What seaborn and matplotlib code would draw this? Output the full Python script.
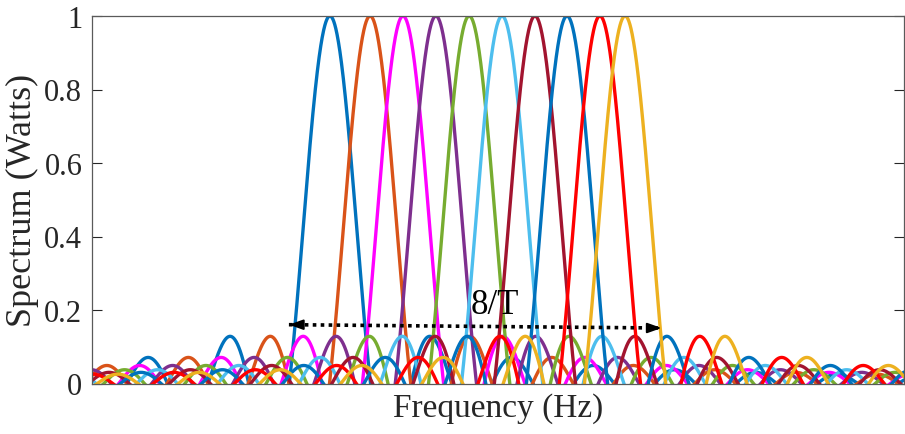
import numpy as np
import pandas as pd
import matplotlib
matplotlib.use("Agg")
import matplotlib.pyplot as plt
import seaborn as sns

# Subcarrier centre frequencies (in units of 1/T)
centers = [-4.14, -3.15, -2.34, -1.53, -0.71, 0.10, 0.91, 1.70, 2.51, 3.13]
colors = ["#0072BD", "#D95319", "#FF00FF", "#7E2F8E", "#77AC30",
          "#4DBEEE", "#A2142F", "#0072BD", "#FF0000", "#EDB120"]
yticks = [0, 0.2, 0.4, 0.6, 0.8, 1]
ytick_labels = ["0", "0.2", "0.4", "0.6", "0.8", "1"]
x_range = [-10, 10]
arrow_x = [-5.15, 4.03]
arrow_y = [0.160, 0.151]
span_label = "8/T"

sns.set_theme(style="white")
plt.rcParams["font.family"] = ["Liberation Serif", "DejaVu Serif"]

f = np.linspace(x_range[0], x_range[1], 4001)
frames = []
for i, c in enumerate(centers):
    frames.append(pd.DataFrame({"f": f, "S": np.sinc(f - c), "k": i}))
df = pd.concat(frames, ignore_index=True)

fig = plt.figure(figsize=(9.05, 4.35), dpi=100)
ax = fig.add_axes([92 / 905, (435 - 384.5) / 435, (904 - 92) / 905, (384.5 - 17) / 435])

sns.lineplot(data=df, x="f", y="S", hue="k", palette=colors, estimator=None,
             sort=False, linewidth=2.4, legend=False, ax=ax)

ax.set_xlim(*x_range)
ax.set_ylim(0, 1)
ax.set_yticks(yticks)
ax.set_yticklabels(ytick_labels)
ax.set_xticks([])
ax.tick_params(axis="y", direction="in", length=7, width=0.8, colors="#262626",
               labelsize=22, right=True, left=True, pad=7)
for s in ax.spines.values():
    s.set_visible(True)
    s.set_color("#5a5a5a")
    s.set_linewidth(0.9)

ax.set_xlabel("Frequency (Hz)", fontsize=24, color="#262626", labelpad=6)
ax.set_ylabel("Spectrum (Watts)", fontsize=26, color="#262626", labelpad=4)

# dotted span line with arrowheads
ax.plot(arrow_x, arrow_y, color="black", linestyle=(0, (1, 1.2)), linewidth=2.6)
dx = 0.35
ax.annotate("", xy=(arrow_x[0], arrow_y[0]), xytext=(arrow_x[0] + dx, arrow_y[0]),
            arrowprops=dict(arrowstyle="-|>,head_length=0.7,head_width=0.25",
                            color="black", lw=1.5, shrinkA=0, shrinkB=0))
ax.annotate("", xy=(arrow_x[1], arrow_y[1]), xytext=(arrow_x[1] - dx, arrow_y[1]),
            arrowprops=dict(arrowstyle="-|>,head_length=0.7,head_width=0.25",
                            color="black", lw=1.5, shrinkA=0, shrinkB=0))
ax.text(-0.09, 0.214, span_label, fontsize=25, color="black", ha="center", va="center")

fig.savefig("out.png", dpi=100)
